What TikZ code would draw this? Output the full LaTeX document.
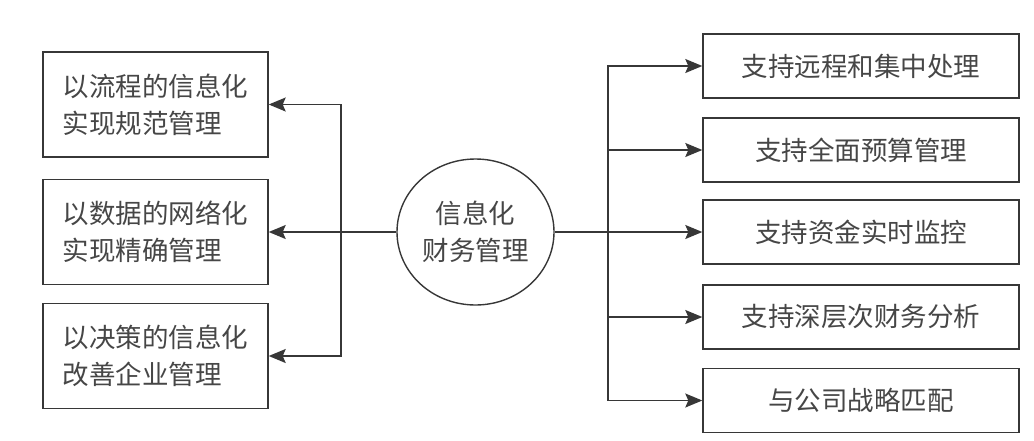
\documentclass[tikz,border=0pt]{standalone}
\usepackage{fontspec}
\newfontfamily\cjk{Noto Sans CJK SC}
\usetikzlibrary{shapes.geometric,arrows.meta}
\definecolor{linegray}{RGB}{55,55,55}
\definecolor{textgray}{RGB}{70,70,70}
\tikzset{every picture/.style={line width=1.4pt}}
\tikzset{
	txt/.style={font=\cjk\fontsize{26.5}{37}\selectfont, text=textgray, inner sep=0pt},
	leftbox/.style={txt, draw=linegray, rectangle, minimum width=225, minimum height=105, align=left},
	rightbox/.style={txt, draw=linegray, rectangle, minimum width=316, minimum height=64, align=center},
	hub/.style={txt, draw=linegray, ellipse, minimum width=157, minimum height=146, align=center},
	arr/.style={draw=linegray, -{Stealth[length=17pt,width=14pt,inset=3pt]}}
}

\begin{document}
\begin{tikzpicture}[x=1pt,y=1pt,yscale=-1,xscale=1]
	\useasboundingbox (0,0) rectangle (1034,440);

	%Shape: Ellipse
	\node [hub] (ctr) at (475.5,232) {信息化\\财务管理};

	%Shape: Left boxes
	\node [leftbox] (lb1) at (155.5,104.5) {以流程的信息化\\实现规范管理};
	\node [leftbox] (lb2) at (155.5,232) {以数据的网络化\\实现精确管理};
	\node [leftbox] (lb3) at (155.5,356) {以决策的信息化\\改善企业管理};

	%Shape: Right boxes
	\node [rightbox] (rb1) at (861,66) {支持远程和集中处理};
	\node [rightbox] (rb2) at (861,150) {支持全面预算管理};
	\node [rightbox] (rb3) at (861,232) {支持资金实时监控};
	\node [rightbox] (rb4) at (861,317) {支持深层次财务分析};
	\node [rightbox] (rb5) at (861,400.5) {与公司战略匹配};

	%Straight Lines: left bus
	\coordinate (lbus) at (341,232);
	\draw [arr] (ctr.west) -- (lb2.east);
	\draw [arr] (lbus) |- (lb1.east);
	\draw [arr] (lbus) |- (lb3.east);

	%Straight Lines: right bus
	\coordinate (rbus) at (608,232);
	\draw [arr] (ctr.east) -- (rb3.west);
	\draw [arr] (rbus) |- (rb1.west);
	\draw [arr] (rbus) |- (rb2.west);
	\draw [arr] (rbus) |- (rb4.west);
	\draw [arr] (rbus) |- (rb5.west);

\end{tikzpicture}
\end{document}
